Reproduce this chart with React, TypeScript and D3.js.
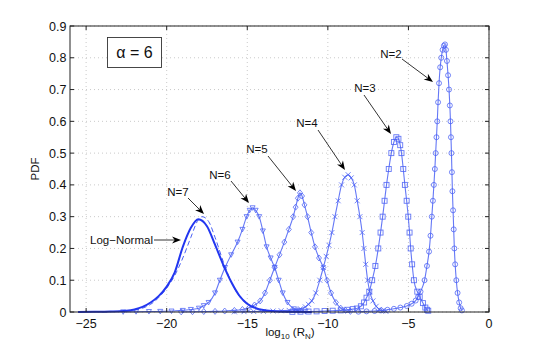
import React from "react";
import * as d3 from "d3";

// ---- data (log10(R_N), PDF) ----
const xTicks = [-25, -20, -15, -10, -5, 0];
const yTicks = [0, 0.1, 0.2, 0.3, 0.4, 0.5, 0.6, 0.7, 0.8, 0.9];

const n2: [number, number][] = [
  [-8.1, 0.001], [-7.6, 0.002], [-7.1, 0.003], [-6.7, 0.005], [-6.3, 0.007], [-5.9, 0.01],
  [-5.5, 0.014], [-5.1, 0.019], [-4.8, 0.026], [-4.55, 0.036], [-4.4, 0.048], [-4.25, 0.064],
  [-4.0, 0.1], [-3.85, 0.145], [-3.72, 0.19], [-3.63, 0.24], [-3.55, 0.3], [-3.48, 0.35],
  [-3.42, 0.4], [-3.36, 0.45], [-3.31, 0.5], [-3.26, 0.55], [-3.21, 0.6], [-3.16, 0.66],
  [-3.1, 0.72], [-3.03, 0.77], [-2.96, 0.8], [-2.88, 0.825], [-2.8, 0.838], [-2.73, 0.842],
  [-2.67, 0.825], [-2.61, 0.79], [-2.54, 0.745], [-2.48, 0.7], [-2.43, 0.65], [-2.39, 0.6],
  [-2.36, 0.55], [-2.33, 0.5], [-2.3, 0.44], [-2.27, 0.38], [-2.23, 0.32], [-2.19, 0.26],
  [-2.15, 0.2], [-2.1, 0.15], [-2.03, 0.1], [-1.95, 0.06], [-1.85, 0.03], [-1.76, 0.012],
  [-1.68, 0.005],
];

const n3: [number, number][] = [
  [-12.2, 0.0005], [-11.7, 0.001], [-11.2, 0.0015], [-10.7, 0.002], [-10.2, 0.003], [-9.7, 0.004],
  [-9.2, 0.005], [-8.8, 0.007], [-8.45, 0.009], [-8.2, 0.011], [-7.95, 0.018], [-7.75, 0.03],
  [-7.6, 0.045], [-7.43, 0.064], [-7.25, 0.1], [-7.05, 0.145], [-6.87, 0.2], [-6.73, 0.25],
  [-6.6, 0.3], [-6.48, 0.35], [-6.36, 0.4], [-6.22, 0.45], [-6.06, 0.5], [-5.9, 0.535],
  [-5.75, 0.55], [-5.62, 0.545], [-5.51, 0.525], [-5.43, 0.5], [-5.32, 0.45], [-5.22, 0.4],
  [-5.11, 0.35], [-5.01, 0.3], [-4.93, 0.25], [-4.86, 0.2], [-4.77, 0.15], [-4.66, 0.1],
  [-4.45, 0.064], [-4.3, 0.047], [-4.1, 0.028], [-3.95, 0.014], [-3.85, 0.007], [-3.77, 0.004],
];

const n4: [number, number][] = [
  [-15.8, 0.0005], [-15.2, 0.001], [-14.6, 0.0015], [-14.0, 0.002], [-13.4, 0.003], [-12.9, 0.004],
  [-12.4, 0.005], [-12.0, 0.007], [-11.7, 0.01], [-11.4, 0.016], [-11.2, 0.024], [-11.0, 0.035],
  [-10.75, 0.06], [-10.5, 0.1], [-10.28, 0.14], [-10.1, 0.175], [-9.93, 0.21], [-9.75, 0.25],
  [-9.56, 0.3], [-9.36, 0.35], [-9.15, 0.4], [-8.95, 0.424], [-8.74, 0.432], [-8.55, 0.422],
  [-8.36, 0.4], [-8.18, 0.35], [-8.01, 0.3], [-7.87, 0.25], [-7.76, 0.2], [-7.65, 0.15],
  [-7.53, 0.1], [-7.4, 0.064], [-7.2, 0.035], [-7.0, 0.018], [-6.8, 0.008], [-6.6, 0.004],
  [-6.4, 0.002],
];

const n5: [number, number][] = [
  [-19.1, 0.0005], [-18.4, 0.001], [-17.7, 0.0015], [-17.0, 0.002], [-16.4, 0.003], [-15.8, 0.005],
  [-15.3, 0.008], [-14.9, 0.013], [-14.55, 0.022], [-14.2, 0.035], [-13.9, 0.06], [-13.6, 0.1],
  [-13.3, 0.14], [-13.0, 0.18], [-12.7, 0.22], [-12.42, 0.26], [-12.15, 0.3], [-12.0, 0.33],
  [-11.86, 0.358], [-11.73, 0.375], [-11.6, 0.365], [-11.45, 0.337], [-11.26, 0.3], [-11.03, 0.25],
  [-10.8, 0.205], [-10.55, 0.17], [-10.28, 0.14], [-10.05, 0.1], [-9.8, 0.06], [-9.5, 0.03],
  [-9.2, 0.012], [-8.9, 0.005], [-8.6, 0.002],
];

const n6: [number, number][] = [
  [-22.7, 0.0005], [-21.9, 0.001], [-21.1, 0.0015], [-20.4, 0.002], [-19.7, 0.003], [-19.0, 0.005],
  [-18.5, 0.008], [-18.0, 0.012], [-17.7, 0.02], [-17.4, 0.03], [-17.0, 0.06], [-16.7, 0.1],
  [-16.38, 0.14], [-16.0, 0.18], [-15.6, 0.22], [-15.3, 0.26], [-15.04, 0.3], [-14.85, 0.32],
  [-14.67, 0.328], [-14.48, 0.32], [-14.26, 0.3], [-14.03, 0.255], [-13.8, 0.205], [-13.55, 0.17],
  [-13.3, 0.14], [-13.05, 0.1], [-12.8, 0.06], [-12.5, 0.03], [-12.1, 0.01], [-11.8, 0.004],
  [-11.4, 0.002],
];

const n7: [number, number][] = [
  [-25.5, 0.0003], [-24.5, 0.0006], [-23.5, 0.0015], [-22.5, 0.004], [-22.0, 0.008], [-21.5, 0.016],
  [-21.0, 0.03], [-20.5, 0.05], [-20.0, 0.08], [-19.5, 0.125], [-19.0, 0.205], [-18.5, 0.265],
  [-18.04, 0.292], [-17.5, 0.27], [-17.0, 0.212], [-16.5, 0.15], [-16.0, 0.095], [-15.5, 0.052],
  [-15.0, 0.026], [-14.5, 0.013], [-14.0, 0.006], [-13.5, 0.003], [-12.5, 0.001], [-11.0, 0.0003],
];

const logNormal: [number, number][] = [
  [-24.0, 0.0005], [-23.0, 0.002], [-22.0, 0.006], [-21.5, 0.012], [-21.0, 0.024], [-20.5, 0.045],
  [-20.0, 0.075], [-19.5, 0.115], [-19.0, 0.17], [-18.5, 0.235], [-18.1, 0.285], [-17.8, 0.3],
  [-17.4, 0.285], [-17.0, 0.235], [-16.5, 0.16], [-16.0, 0.095], [-15.5, 0.05], [-15.0, 0.024],
  [-14.5, 0.01], [-14.0, 0.004], [-13.0, 0.001],
];

const seriesNames = ["N=2", "N=3", "N=4", "N=5", "N=6"];
const seriesData = [n2, n3, n4, n5, n6];
const seriesMarkers = ["circle", "square", "x", "diamond", "triangle"];

// ---- annotation layout (pixels) ----
const annotations = [
  { text: "N=2", tx: 391, ty: 54, x1: 402, y1: 59, x2: 433, y2: 82 },
  { text: "N=3", tx: 365, ty: 88, x1: 364, y1: 95, x2: 391, y2: 134 },
  { text: "N=4", tx: 307, ty: 123, x1: 318, y1: 130, x2: 345, y2: 170 },
  { text: "N=5", tx: 257, ty: 149, x1: 268, y1: 156, x2: 296, y2: 191 },
  { text: "N=6", tx: 220, ty: 175, x1: 231, y1: 181, x2: 249, y2: 203 },
  { text: "N=7", tx: 178, ty: 192, x1: 188, y1: 198, x2: 204, y2: 214 },
  { text: "Log\u2212Normal", tx: 121.5, ty: 240, x1: 154, y1: 240, x2: 181, y2: 240 },
];

const W = 540;
const H = 351;
const L = 70, R = 489, T = 26, B = 312;
const FONT = "'Liberation Sans', Arial, Helvetica, sans-serif";
const LINE = "#2236f0";
const MARK = "#4a60f5";

function Marker({ kind, cx, cy }: { kind: string; cx: number; cy: number }) {
  const s = 2.5;
  const common = { fill: "none", stroke: MARK, strokeWidth: 0.9, strokeOpacity: 0.85 };
  if (kind === "circle") return <circle cx={cx} cy={cy} r={s} {...common} />;
  if (kind === "square") return <rect x={cx - s} y={cy - s} width={2 * s} height={2 * s} {...common} />;
  if (kind === "x")
    return (
      <path d={`M${cx - s},${cy - s}L${cx + s},${cy + s}M${cx - s},${cy + s}L${cx + s},${cy - s}`} {...common} />
    );
  if (kind === "diamond")
    return <path d={`M${cx},${cy - s - 0.5}L${cx + s},${cy}L${cx},${cy + s + 0.5}L${cx - s},${cy}Z`} {...common} />;
  return <path d={`M${cx - s},${cy - s * 0.8}L${cx + s},${cy - s * 0.8}L${cx},${cy + s}Z`} {...common} />;
}

function Arrow({ x1, y1, x2, y2 }: { x1: number; y1: number; x2: number; y2: number }) {
  const dx = x2 - x1, dy = y2 - y1;
  const len = Math.hypot(dx, dy);
  const ux = dx / len, uy = dy / len;
  const hl = 9, hw = 3.6;
  const bx = x2 - ux * hl, by = y2 - uy * hl;
  const mx = x2 - ux * hl * 0.7, my = y2 - uy * hl * 0.7;
  const p1 = [bx - uy * hw, by + ux * hw];
  const p2 = [bx + uy * hw, by - ux * hw];
  return (
    <g>
      <line x1={x1} y1={y1} x2={mx} y2={my} stroke="#000" strokeWidth={0.8} />
      <path d={`M${x2},${y2}L${p1[0]},${p1[1]}L${mx},${my}L${p2[0]},${p2[1]}Z`} fill="#000" />
    </g>
  );
}

export default function App() {
  const x = d3.scaleLinear().domain([-26, 0]).range([L, R]);
  const y = d3.scaleLinear().domain([0, 0.9]).range([B, T]);
  const line = d3
    .line<[number, number]>()
    .x((d) => x(d[0]))
    .y((d) => y(d[1]))
    .curve(d3.curveMonotoneX);

  const fmtY = (v: number) => (v === 0 ? "0" : v.toFixed(1));
  const fmtX = (v: number) => (v < 0 ? "\u2212" + Math.abs(v) : String(v));

  return (
    <svg width={W} height={H} style={{ position: "absolute", left: 0, top: 0, background: "#fff" }} fontFamily={FONT}>
      <rect x={0} y={0} width={W} height={H} fill="#fff" />
      {/* grid */}
      {xTicks.map((t) => (
        <line key={"gx" + t} x1={x(t)} x2={x(t)} y1={T} y2={B} stroke="#bdbdbd" strokeWidth={0.8} strokeDasharray="1,3" />
      ))}
      {yTicks.map((t) => (
        <line key={"gy" + t} x1={L} x2={R} y1={y(t)} y2={y(t)} stroke="#bdbdbd" strokeWidth={0.8} strokeDasharray="1,3" />
      ))}

      {/* curves with markers */}
      {seriesData.map((data, i) => (
        <g key={seriesNames[i]}>
          <path d={line(data) || ""} fill="none" stroke={MARK} strokeWidth={1.1} strokeOpacity={0.85} />
          {data.map((d, j) => (
            <Marker key={j} kind={seriesMarkers[i]} cx={x(d[0])} cy={y(d[1])} />
          ))}
        </g>
      ))}
      <path d={line(logNormal) || ""} fill="none" stroke={MARK} strokeWidth={1} strokeDasharray="5,3" />
      <path d={line(n7) || ""} fill="none" stroke={LINE} strokeWidth={2} />

      {/* axes box */}
      <rect x={L} y={T} width={R - L} height={B - T} fill="none" stroke="#222" strokeWidth={1} />
      {xTicks.map((t) => (
        <g key={"tx" + t}>
          <line x1={x(t)} x2={x(t)} y1={B} y2={B - 4} stroke="#222" />
          <line x1={x(t)} x2={x(t)} y1={T} y2={T + 4} stroke="#222" />
          <text x={x(t)} y={327.5} fontSize={12.5} textAnchor="middle" fill="#111">
            {fmtX(t)}
          </text>
        </g>
      ))}
      {yTicks.map((t) => (
        <g key={"ty" + t}>
          <line x1={L} x2={L + 4} y1={y(t)} y2={y(t)} stroke="#222" />
          <line x1={R} x2={R - 4} y1={y(t)} y2={y(t)} stroke="#222" />
          <text x={66.5} y={y(t) + 4.5} fontSize={12.5} textAnchor="end" fill="#111">
            {fmtY(t)}
          </text>
        </g>
      ))}

      {/* axis labels */}
      <text x={290} y={336} fontSize={11.5} textAnchor="middle" fill="#111">
        log
        <tspan fontSize={8} dy={3}>10</tspan>
        <tspan dy={-3}> (R</tspan>
        <tspan fontSize={8} dy={3}>N</tspan>
        <tspan dy={-3}>)</tspan>
      </text>
      <text x={39} y={169} fontSize={11.5} textAnchor="middle" fill="#111" transform="rotate(-90 39 169)">
        PDF
      </text>

      {/* alpha box */}
      <rect x={107.5} y={37.5} width={54} height={30} fill="#fff" stroke="#333" strokeWidth={0.9} />
      <text x={134.5} y={58} fontSize={16} textAnchor="middle" fill="#111">
        {"\u03b1 = 6"}
      </text>

      {/* annotations */}
      {annotations.map((a) => (
        <g key={a.text}>
          <text x={a.tx} y={a.ty + 4} fontSize={11.5} textAnchor="middle" fill="#111">
            {a.text}
          </text>
          <Arrow x1={a.x1} y1={a.y1} x2={a.x2} y2={a.y2} />
        </g>
      ))}
    </svg>
  );
}
